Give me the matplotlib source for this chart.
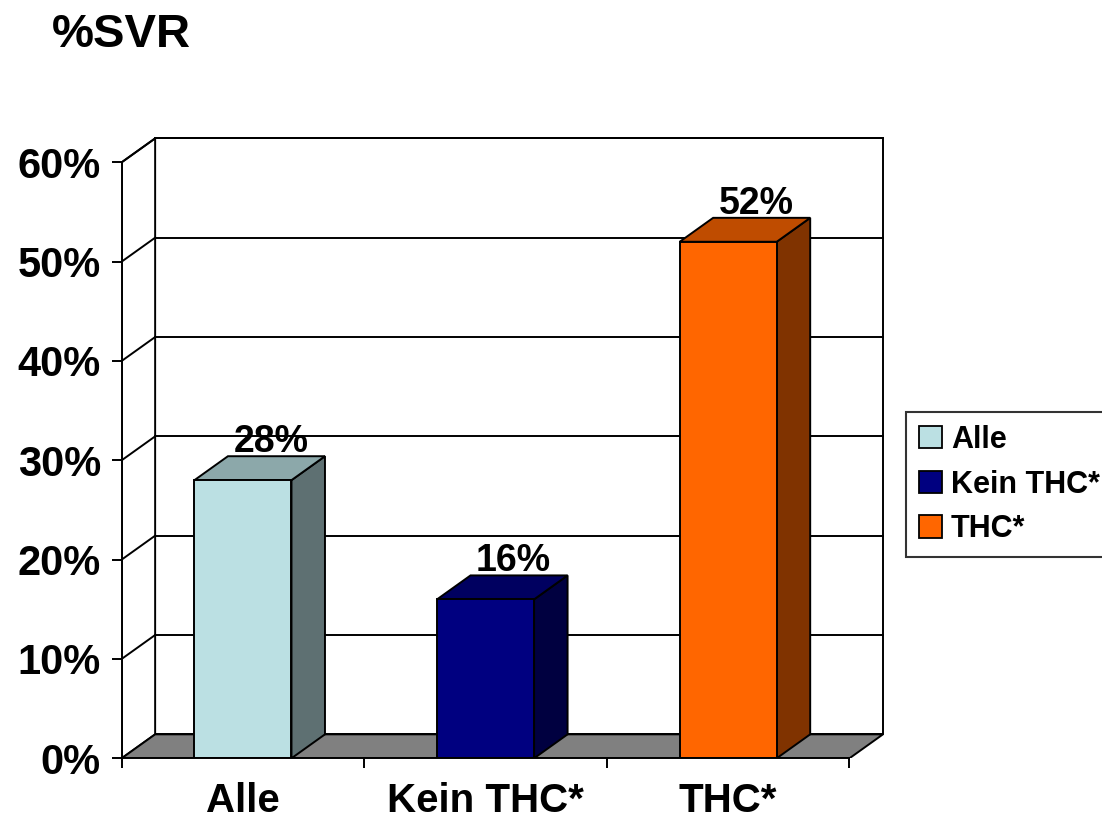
import matplotlib

matplotlib.use("Agg")
import matplotlib.pyplot as plt  # noqa: E402
from matplotlib.patches import Polygon, Rectangle, Patch  # noqa: E402
from matplotlib.ticker import PercentFormatter  # noqa: E402

categories = ["Alle", "Kein THC*", "THC*"]
values = [28, 16, 52]
y_ticks = [0, 10, 20, 30, 40, 50, 60]

front_colors = ["#BBE0E3", "#000080", "#FF6600"]
top_colors = ["#8CA8AA", "#000060", "#BF4C00"]
side_colors = ["#5E7072", "#000040", "#803300"]

plt.rcParams["font.family"] = ["Liberation Sans", "DejaVu Sans"]
plt.rcParams["font.weight"] = "bold"

# depth offset of the fake 3D (data units)
DX, DY = 0.138, 2.41
BAR_W = 0.4
LW = 1.4

fig = plt.figure(figsize=(11.02, 8.21), dpi=100)
ax = fig.add_axes([0.1104, 0.0764, 0.7045, 0.7622])
ax.set_xlim(0, 3.2)
ax.set_ylim(0, 63)
n = len(categories)
ymax = y_ticks[-1]

# walls and floor
ax.add_patch(Rectangle((DX, DY), n, ymax, facecolor="white", edgecolor="black", lw=LW, zorder=1))
ax.add_patch(Polygon([(0, 0), (DX, DY), (DX, ymax + DY), (0, ymax)], closed=True,
                     facecolor="white", edgecolor="black", lw=LW, zorder=1))
ax.add_patch(Polygon([(0, 0), (n, 0), (n + DX, DY), (DX, DY)], closed=True,
                     facecolor="#808080", edgecolor="black", lw=LW, zorder=2))
for v in y_ticks[1:]:
    ax.plot([DX, n + DX], [v + DY, v + DY], color="black", lw=LW, zorder=1.5)
    ax.plot([0, DX], [v, v + DY], color="black", lw=LW, zorder=1.5)

# bars
for i, v in enumerate(values):
    x0 = i + 0.5 - BAR_W / 2
    x1 = x0 + BAR_W
    ax.add_patch(Polygon([(x1, 0), (x1 + DX, DY), (x1 + DX, v + DY), (x1, v)], closed=True,
                         facecolor=side_colors[i], edgecolor="black", lw=LW, zorder=3))
    ax.add_patch(Polygon([(x0, v), (x1, v), (x1 + DX, v + DY), (x0 + DX, v + DY)], closed=True,
                         facecolor=top_colors[i], edgecolor="black", lw=LW, zorder=3))
    ax.add_patch(Rectangle((x0, 0), BAR_W, v, facecolor=front_colors[i],
                           edgecolor="black", lw=LW, zorder=3))
    ax.text(i + 0.5 + 0.115, v + DY + 0.4, f"{v}%", ha="center", va="baseline",
            fontsize=27, fontweight="bold", zorder=4)

# axes
for s in ["top", "right"]:
    ax.spines[s].set_visible(False)
ax.spines["left"].set_bounds(0, ymax)
ax.spines["bottom"].set_bounds(0, n)
for s in ["left", "bottom"]:
    ax.spines[s].set_linewidth(LW)
    ax.spines[s].set_zorder(5)

ax.set_yticks(y_ticks)
ax.yaxis.set_major_formatter(PercentFormatter(decimals=0))
ax.tick_params(axis="y", length=7, width=LW, pad=8, labelsize=30)

ax.set_xticks(range(n + 1))
ax.set_xticklabels([])
ax.set_xticks([i + 0.5 for i in range(n)], minor=True)
ax.set_xticklabels(categories, minor=True)
ax.tick_params(axis="x", which="major", length=7, width=LW)
ax.tick_params(axis="x", which="minor", length=0, pad=17, labelsize=29)

fig.text(52 / 1102, 1 - 13 / 821, "%SVR", fontsize=34, fontweight="bold", ha="left", va="top")

handles = [Patch(facecolor=c, edgecolor="black", lw=1.3) for c in front_colors]
leg = fig.legend(handles, categories, loc="upper left", bbox_to_anchor=(906 / 1102, 1 - 412 / 821),
                 fontsize=22, frameon=True, fancybox=False, handlelength=0.75, handleheight=0.75,
                 handletextpad=0.3, labelspacing=0.48, borderpad=0.42, borderaxespad=0)
leg.get_frame().set_edgecolor("black")
leg.get_frame().set_linewidth(1.5)
for t in leg.get_texts():
    t.set_fontweight("bold")

fig.savefig("out.png", dpi=100)
